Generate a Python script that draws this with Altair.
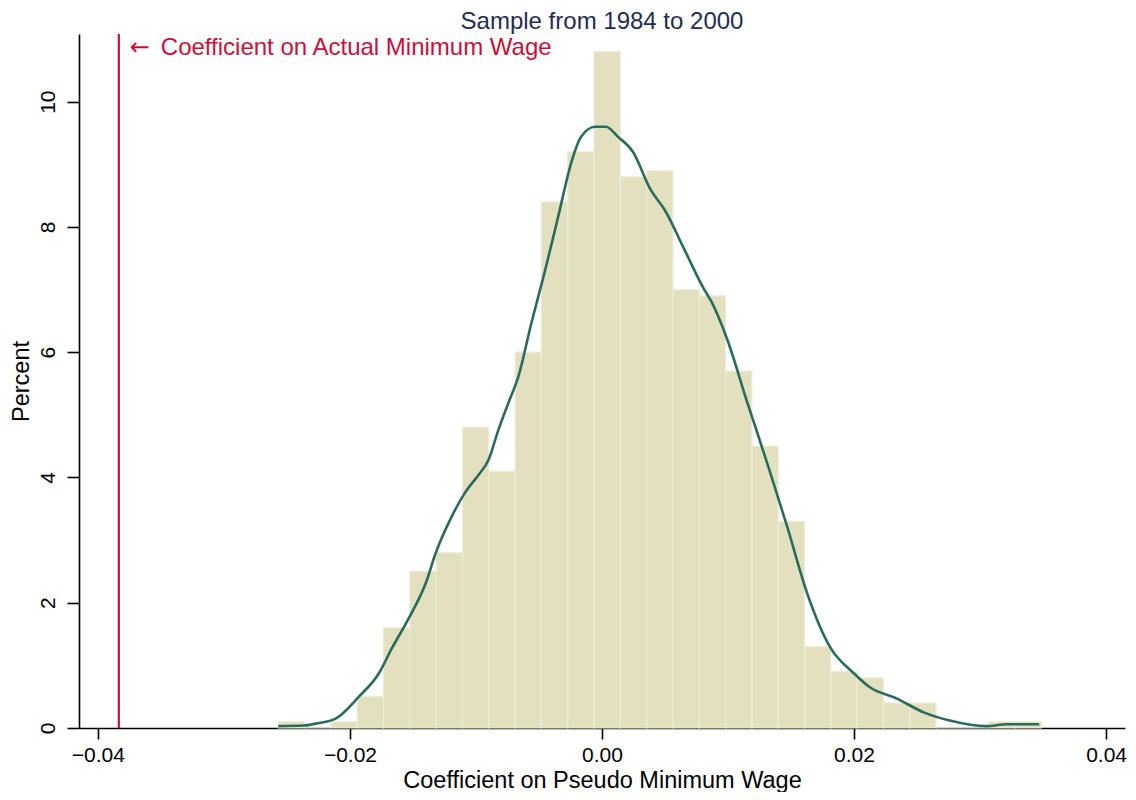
import altair as alt
import numpy as np
import pandas as pd

# Histogram: 29 equal-width bins, percent of draws in each bin
bin_start = -0.02569
bin_width = 0.002088
percents = [0.1, 0.0, 0.1, 0.5, 1.6, 2.5, 2.8, 4.8, 4.1, 6.0,
            8.4, 9.2, 10.8, 8.8, 8.9, 7.0, 6.9, 5.7, 4.5, 3.3,
            1.3, 0.9, 0.8, 0.4, 0.4, 0.0, 0.0, 0.1, 0.1]

# Kernel density (scaled to percent)
kde_x = [-0.02569, -0.02364, -0.02245, -0.02113, -0.01929, -0.01771, -0.01668,
         -0.01534, -0.01399, -0.01320, -0.01194, -0.01083, -0.00980, -0.00901,
         -0.00822, -0.00743, -0.00664, -0.00561, -0.00451, -0.00348, -0.00245,
         -0.00166, -0.00055, 0.00032, 0.00126, 0.00245, 0.00387, 0.00498,
         0.00656, 0.00814, 0.00862, 0.00996, 0.01154, 0.01233, 0.01336,
         0.01470, 0.01628, 0.01810, 0.02000, 0.02126, 0.02340, 0.02553,
         0.02759, 0.03051, 0.03209, 0.03470]
kde_y = [0.03, 0.04, 0.08, 0.15, 0.50, 0.87, 1.27, 1.75, 2.31, 2.79, 3.37, 3.77,
         4.04, 4.28, 4.76, 5.19, 5.61, 6.46, 7.31, 8.16, 9.02, 9.44, 9.60, 9.60,
         9.44, 9.20, 8.59, 8.27, 7.63, 6.99, 6.83, 6.19, 5.19, 4.71, 4.07, 3.21,
         2.15, 1.29, 0.87, 0.65, 0.47, 0.25, 0.12, 0.03, 0.06, 0.06]

actual_coef = -0.03834
arrow = "\u2190"
annotation = "Coefficient on Actual Minimum Wage"
title_text = "Sample from 1984 to 2000"

x_ticks = [-0.04, -0.02, 0.0, 0.02, 0.04]
y_ticks = [0, 2, 4, 6, 8, 10]

edges = bin_start + bin_width * np.arange(len(percents) + 1)
hist_df = pd.DataFrame({"lo": edges[:-1], "hi": edges[1:], "pct": percents,
                        "base": [0.0] * len(percents)})
kde_df = pd.DataFrame({"x": kde_x, "y": kde_y})
ref_df = pd.DataFrame({"x": [actual_coef], "arrow": [arrow], "label": [annotation]})
title_df = pd.DataFrame({"t": [title_text]})

W, H = 1046, 694

xscale = alt.Scale(domain=[-0.0415, 0.0415], nice=False, zero=False)
yscale = alt.Scale(domain=[0, 11.08], nice=False)

xaxis = alt.Axis(values=x_ticks, labelExpr="replace(format(datum.value, '.2f'), '-', '\u2013')",
                 title="Coefficient on Pseudo Minimum Wage", grid=False,
                 tickSize=11, labelPadding=5, labelFontSize=21,
                 titleFontSize=23.5, titleFontWeight="normal", titleBaseline="alphabetic",
                 titleY=59, titleColor="#000000", labelColor="#000000",
                 domainColor="#000000", tickColor="#000000", domainWidth=1.6, tickWidth=1.6)
yaxis = alt.Axis(values=y_ticks, labelExpr="format(datum.value, 'd')", title="Percent", grid=False,
                 tickSize=12, labelPadding=13, labelFontSize=21, labelAngle=-90,
                 labelAlign="center", labelBaseline="alphabetic",
                 titleFontSize=23.5, titleFontWeight="normal", titleBaseline="alphabetic",
                 titleX=-51, titleAngle=-90, titleColor="#000000", labelColor="#000000",
                 domainColor="#000000", tickColor="#000000", domainWidth=1.6, tickWidth=1.6)

bars = alt.Chart(hist_df).mark_rect(color="#e3e0bf", stroke="#eeecd9", strokeWidth=1.2).encode(
    x=alt.X("lo:Q", scale=xscale, axis=xaxis),
    x2="hi:Q",
    y=alt.Y("pct:Q", scale=yscale, axis=yaxis),
    y2="base:Q",
)

line = alt.Chart(kde_df).mark_line(color="#2b6b5e", strokeWidth=2.6, interpolate="monotone").encode(
    x=alt.X("x:Q", scale=xscale), y=alt.Y("y:Q", scale=yscale)
)

rule = alt.Chart(ref_df).mark_rule(color="#c8103a", strokeWidth=2.2).encode(
    x=alt.X("x:Q", scale=xscale)
)

arrow_text = alt.Chart(ref_df).mark_text(align="left", baseline="alphabetic", dx=11, fontSize=24,
                                         font="DejaVu Sans", color="#c8103a").encode(
    x=alt.X("x:Q", scale=xscale), y=alt.value(21), text="arrow:N"
)

text = alt.Chart(ref_df).mark_text(align="left", baseline="alphabetic", dx=42, fontSize=24,
                                   color="#c8103a").encode(
    x=alt.X("x:Q", scale=xscale), y=alt.value(21), text="label:N"
)

title = alt.Chart(title_df).mark_text(align="center", baseline="alphabetic", fontSize=24,
                                      color="#1f2d52").encode(
    x=alt.value(W / 2), y=alt.value(-5), text="t:N"
)

chart = alt.layer(bars, line, rule, arrow_text, text, title).properties(
    width=W, height=H,
    autosize=alt.AutoSizeParams(type="none"),
    padding={"left": 71, "top": 26, "right": 3, "bottom": 64},
).configure(font="Liberation Sans").configure_view(stroke=None)

chart.save("out.html", embed_options={"renderer": "svg", "actions": False})
